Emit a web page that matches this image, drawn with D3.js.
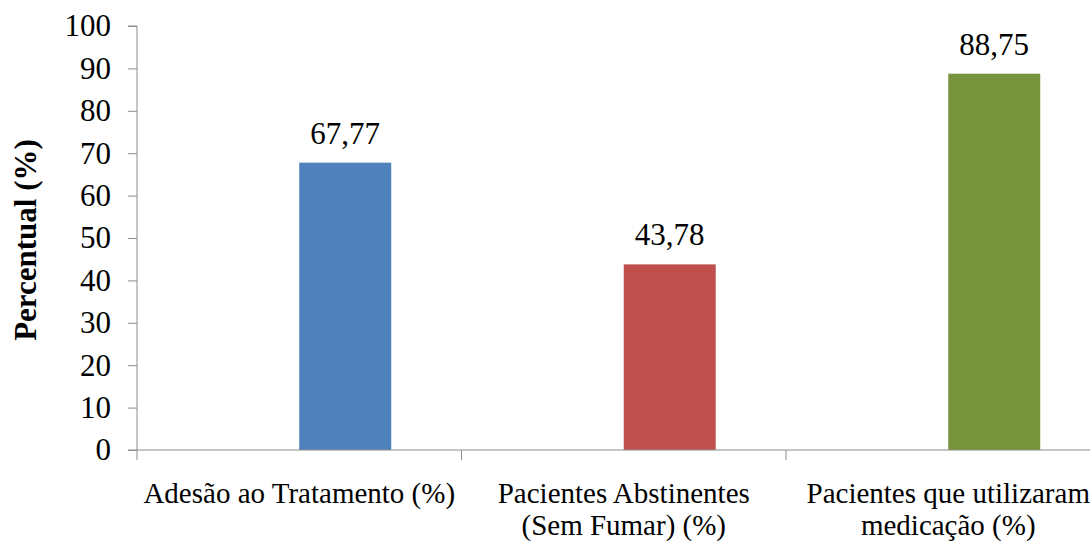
<!DOCTYPE html>
<html>
<head>
<meta charset="utf-8">
<script src="https://cdn.jsdelivr.net/npm/d3@7"></script>
<style>
  html, body { margin: 0; padding: 0; background: #fff; }
  svg { display: block; }
</style>
</head>
<body>
<svg id="chart" width="1090" height="541"></svg>
<script>
// Categories (multi-line labels) and their percentages
const categories = [
  ["Adesão ao Tratamento (%)"],
  ["Pacientes Abstinentes", "(Sem Fumar) (%)"],
  ["Pacientes que utilizaram", "medicação (%)"]
];
const values = [67.77, 43.78, 88.75];
const valueLabels = ["67,77", "43,78", "88,75"];
const barColors = ["#4F81BD", "#C0504D", "#77933C"];
const yTicks = [0, 10, 20, 30, 40, 50, 60, 70, 80, 90, 100];
const yTitle = "Percentual (%)";

// Two series slots per category; the values sit in the second slot
const seriesSlots = ["vazio", "valor"];

const FONT = '"Liberation Serif", "Times New Roman", serif';
const svg = d3.select("#chart");
const margin = { left: 137, top: 26, bottom: 91 };
const plotBottom = 541 - margin.bottom;
const axisColor = "#8c8c8c";

const x = d3.scaleBand()
  .domain(d3.range(categories.length))
  .range([margin.left, 1110.5])
  .paddingInner(0).paddingOuter(0);

const x1 = d3.scaleBand()
  .domain(seriesSlots)
  .range([0, x.bandwidth()])
  .paddingInner(0)
  .paddingOuter(0.764);

const y = d3.scaleLinear().domain([0, 100]).range([plotBottom, margin.top]);

// Bars
svg.append("g").selectAll("rect")
  .data(values)
  .join("rect")
  .attr("x", (d, i) => x(i) + x1("valor"))
  .attr("width", x1.bandwidth())
  .attr("y", d => y(d))
  .attr("height", d => y(0) - y(d))
  .attr("fill", (d, i) => barColors[i]);

// Value labels
svg.append("g").selectAll("text")
  .data(values)
  .join("text")
  .attr("x", (d, i) => x(i) + x1("valor") + x1.bandwidth() / 2)
  .attr("y", d => y(d) - 19)
  .attr("text-anchor", "middle")
  .attr("font-size", 31)
  .style("font-family", FONT)
  .attr("fill", "#000")
  .text((d, i) => valueLabels[i]);

// Y axis
const yAxis = svg.append("g")
  .attr("transform", `translate(${margin.left},0)`)
  .call(d3.axisLeft(y).tickValues(yTicks).tickSize(9).tickPadding(17).tickFormat(d3.format("d")));
yAxis.select(".domain").attr("stroke", axisColor).attr("d", `M-9,${y(100)}H0V${y(0)}`);
yAxis.selectAll(".tick line").attr("stroke", axisColor);
yAxis.selectAll(".tick text")
  .attr("font-size", 31)
  .style("font-family", FONT)
  .attr("fill", "#000");

// X axis line with boundary ticks between categories
const xAxisG = svg.append("g");
xAxisG.append("line")
  .attr("x1", margin.left - 9).attr("x2", x.range()[1])
  .attr("y1", y(0)).attr("y2", y(0))
  .attr("stroke", axisColor);
const boundaries = d3.range(categories.length + 1).map(i => margin.left + i * x.step());
xAxisG.selectAll("line.bt")
  .data(boundaries)
  .join("line")
  .attr("class", "bt")
  .attr("x1", d => d).attr("x2", d => d)
  .attr("y1", y(0)).attr("y2", y(0) + 10)
  .attr("stroke", axisColor);

// Category labels
const catG = svg.append("g");
categories.forEach((lines, i) => {
  const t = catG.append("text")
    .attr("x", x(i) + x.bandwidth() / 2)
    .attr("y", 503)
    .attr("text-anchor", "middle")
    .attr("font-size", 29)
    .style("font-family", FONT)
    .attr("fill", "#000");
  lines.forEach((ln, j) => {
    t.append("tspan")
      .attr("x", x(i) + x.bandwidth() / 2)
      .attr("dy", j === 0 ? 0 : 32)
      .text(ln);
  });
});

// Y axis title
svg.append("text")
  .attr("transform", `translate(36,${(y(0) + y(100)) / 2 + 2}) rotate(-90)`)
  .attr("text-anchor", "middle")
  .attr("font-size", 31)
  .attr("font-weight", "bold")
  .style("font-family", FONT)
  .attr("fill", "#000")
  .text(yTitle);
</script>
</body>
</html>
